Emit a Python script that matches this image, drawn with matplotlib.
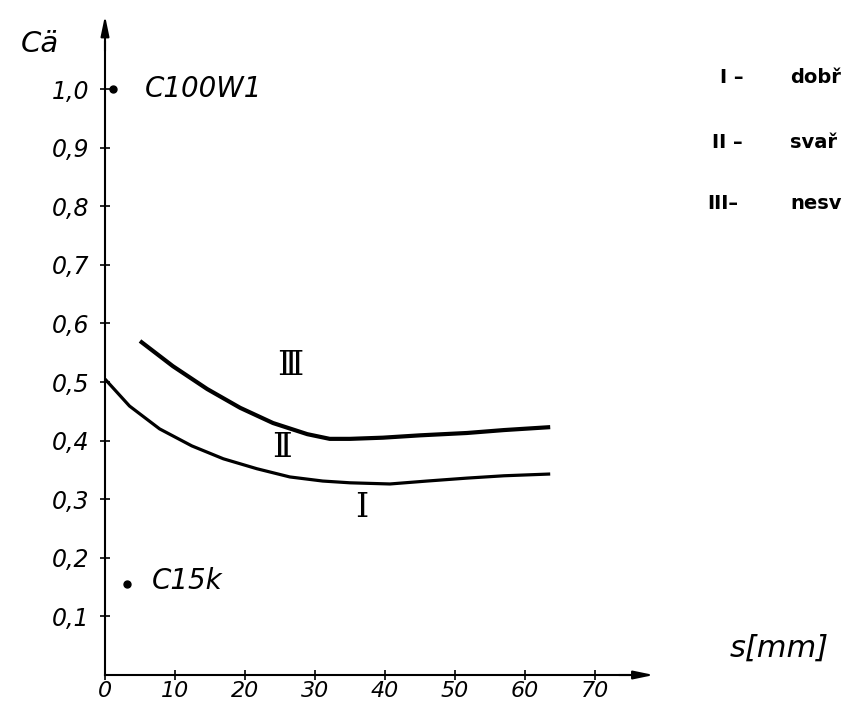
import matplotlib.pyplot as plt

# data
s_lower = [0, 3.5, 7.8, 12.4, 16.9, 21.7, 26.4, 31.1, 35, 40.7, 46, 51.7, 57, 63.6]
c_lower = [0.505, 0.459, 0.42, 0.391, 0.369, 0.352, 0.338, 0.331, 0.328, 0.326, 0.331, 0.336, 0.34, 0.343]
s_upper = [5.0, 9.7, 14.6, 19.3, 24, 28.9, 32.1, 35, 39.7, 45, 51.7, 57, 63.6]
c_upper = [0.570, 0.527, 0.488, 0.456, 0.430, 0.411, 0.403, 0.403, 0.405, 0.409, 0.413, 0.418, 0.423]

steels = ['C100W1', 'C15k']
steel_s = [1.2, 3.1]
steel_c = [1.0, 0.155]

x_ticks = [0, 10, 20, 30, 40, 50, 60, 70]
y_ticks = [0.1, 0.2, 0.3, 0.4, 0.5, 0.6, 0.7, 0.8, 0.9, 1.0]
y_labels = ['0,1', '0,2', '0,3', '0,4', '0,5', '0,6', '0,7', '0,8', '0,9', '1,0']

regions = ['Ⅲ', 'Ⅱ', 'Ⅰ']
region_s = [26.4, 25.3, 36.7]
region_c = [0.527, 0.387, 0.285]

legend_num = ['I –', 'II –', 'III–']
legend_txt = ['dobř', 'svař', 'nesv']

fig = plt.figure(figsize=(8.48, 7.08), dpi=100)
ax = fig.add_axes([0, 0, 1, 1])
ax.set_xlim(-15, 106.14)
ax.set_ylim(-0.0563, 1.1519)

# axes through origin with arrows
for side in ['top', 'right']:
    ax.spines[side].set_visible(False)
ax.spines['left'].set_position(('data', 0))
ax.spines['bottom'].set_position(('data', 0))
ax.spines['left'].set_bounds(0, 1.08)
ax.spines['bottom'].set_bounds(0, 75)
ax.spines['left'].set_linewidth(1.5)
ax.spines['bottom'].set_linewidth(1.5)
ax.annotate('', xy=(0, 1.13), xytext=(0, 1.06),
            arrowprops=dict(arrowstyle='-|>,head_length=1.2,head_width=0.25', color='black', lw=1.5))
ax.annotate('', xy=(78.8, 0), xytext=(73, 0),
            arrowprops=dict(arrowstyle='-|>,head_length=1.2,head_width=0.25', color='black', lw=1.5))

ax.set_xticks(x_ticks)
ax.set_xticklabels([str(v) for v in x_ticks], fontstyle='italic', fontsize=16)
ax.set_yticks(y_ticks)
ax.set_yticklabels(y_labels, fontstyle='italic', fontsize=17)
ax.tick_params(direction='inout', length=7, width=1.2)
ax.tick_params(axis='x', pad=1)
ax.tick_params(axis='y', pad=8)

ax.plot(s_lower, c_lower, color='black', lw=2.3, solid_capstyle='butt')
ax.plot(s_upper, c_upper, color='black', lw=3.0, solid_capstyle='butt')

ax.plot(steel_s, steel_c, 'o', color='black', ms=5)
ax.text(5.7, 1.0, steels[0], fontstyle='italic', fontsize=20, va='center')
ax.text(6.7, 0.16, steels[1], fontstyle='italic', fontsize=20, va='center')

for r, sx, cy in zip(regions, region_s, region_c):
    ax.text(sx, cy, r, family=['DejaVu Serif', 'DejaVu Sans'], fontsize=24,
            ha='center', va='center')

ax.text(-9.3, 1.077, 'Cä', fontstyle='italic', fontsize=21, ha='center', va='center')
ax.text(89.3, 0.046, 's[mm]', fontstyle='italic', fontsize=22, va='center')

legend_y = [1.019, 0.908, 0.805]
legend_x = [87.9, 86.7, 86.0]
for num, txt, lx, ly in zip(legend_num, legend_txt, legend_x, legend_y):
    ax.text(lx, ly, num, fontweight='bold', fontsize=14, va='center')
    ax.text(97.9, ly, txt, fontweight='bold', fontsize=14, va='center')

fig.savefig('out.png', dpi=100)
